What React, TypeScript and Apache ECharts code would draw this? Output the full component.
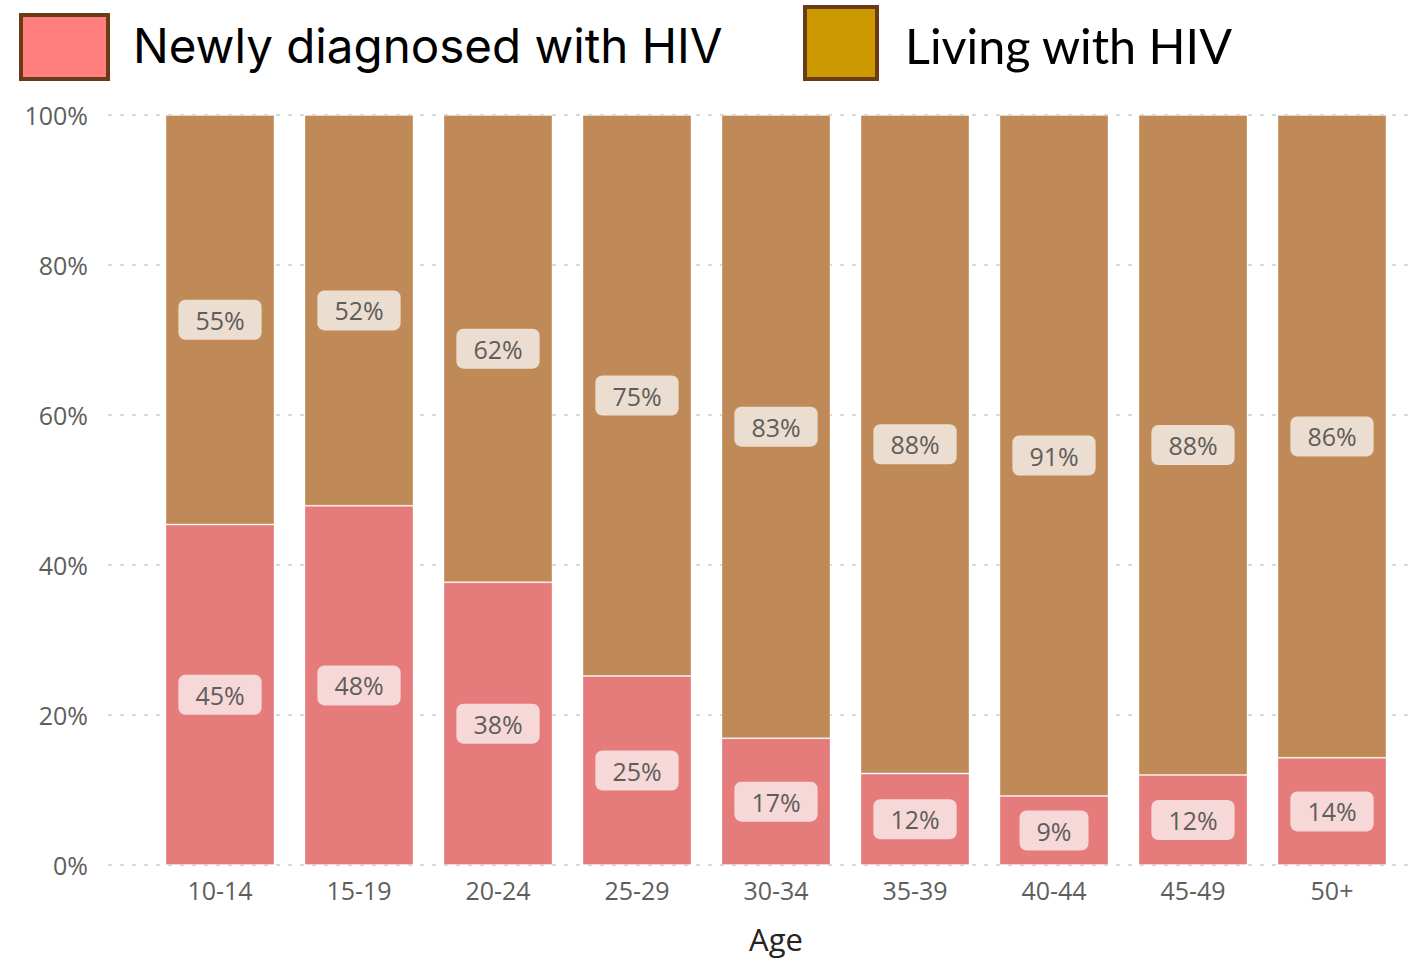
import React, { useEffect, useRef } from "react";
import * as echarts from "echarts";

const categories = ["10-14", "15-19", "20-24", "25-29", "30-34", "35-39", "40-44", "45-49", "50+"];
const newlyDiagnosed = [45.4, 47.9, 37.7, 25.2, 16.9, 12.2, 9.2, 12.0, 14.3];
const livingWithHIV = [54.6, 52.1, 62.3, 74.8, 83.1, 87.8, 90.8, 88.0, 85.7];
const legendNames = ["Newly diagnosed with HIV", "Living with HIV"];
const yTicks = { min: 0, max: 100, interval: 20 };

export default function App() {
  const ref = useRef<HTMLDivElement>(null);
  useEffect(() => {
    document.body.style.margin = "0";
    const chart = echarts.init(ref.current!, null, { renderer: "svg" });
    const labelFont = "'Open Sans', 'Noto Sans', sans-serif";
    const mkLabel = (bg: string) => ({
      show: true,
      position: "inside",
      formatter: (p: any) => Math.round(p.value) + "%",
      color: "#5f5d5b",
      fontSize: 25,
      fontFamily: labelFont,
      backgroundColor: bg,
      padding: [8, 17, 7, 17],
      borderRadius: 7,
    });
    chart.setOption({
      animation: false,
      grid: [
        { left: 108, right: 0, top: 115, bottom: 94 },
        { left: 150.5, right: 14.5, top: 115, bottom: 94 },
      ],
      xAxis: [
        { type: "value", gridIndex: 0, show: false, min: 0, max: 1 },
        {
          type: "category",
          gridIndex: 1,
          data: categories,
          axisLine: { show: false },
          axisTick: { show: false },
          axisLabel: { color: "#605e5c", fontSize: 25, fontFamily: labelFont, margin: 12 },
          name: "Age",
          nameLocation: "middle",
          nameGap: 58,
          nameTextStyle: { color: "#252423", fontSize: 31, fontFamily: labelFont },
        },
      ],
      yAxis: [
        {
          type: "value",
          gridIndex: 0,
          min: yTicks.min,
          max: yTicks.max,
          interval: yTicks.interval,
          axisLine: { show: false },
          axisTick: { show: false },
          axisLabel: {
            formatter: "{value}%",
            color: "#605e5c",
            fontSize: 25,
            fontFamily: labelFont,
            margin: 20,
          },
          splitLine: { lineStyle: { color: "#d9d9d9", width: 2, type: [4, 8] } },
        },
        {
          type: "value",
          gridIndex: 1,
          min: yTicks.min,
          max: yTicks.max,
          show: false,
          splitLine: { show: false },
        },
      ],
      series: [
        {
          name: legendNames[0],
          type: "bar",
          stack: "total",
          xAxisIndex: 1,
          yAxisIndex: 1,
          barWidth: 109,
          data: newlyDiagnosed,
          itemStyle: { color: "#e57b7b", borderColor: "rgba(255,255,255,0.35)", borderWidth: 1 },
          label: mkLabel("#f6d8d9"),
        },
        {
          name: legendNames[1],
          type: "bar",
          stack: "total",
          xAxisIndex: 1,
          yAxisIndex: 1,
          barWidth: 109,
          data: livingWithHIV,
          itemStyle: { color: "#bf8a57", borderColor: "rgba(255,255,255,0.35)", borderWidth: 1 },
          label: mkLabel("#ebddcf"),
        },
      ],
      graphic: [
        {
          type: "rect",
          shape: { x: 21, y: 15, width: 87, height: 64 },
          style: { fill: "#ff7f7f", stroke: "#6b3a17", lineWidth: 4 },
        },
        {
          type: "text",
          x: 133,
          y: 45,
          style: {
            text: legendNames[0],
            fill: "#000",
            fontSize: 47.5,
            fontFamily: "Inter, 'Open Sans', sans-serif",
            verticalAlign: "middle",
          },
        },
        {
          type: "rect",
          shape: { x: 805, y: 7, width: 72, height: 72 },
          style: { fill: "#cc9900", stroke: "#6b3a17", lineWidth: 4 },
        },
        {
          type: "text",
          x: 905,
          y: 45,
          style: {
            text: legendNames[1],
            fill: "#000",
            fontSize: 48.5,
            fontFamily: "Lato, 'Open Sans', sans-serif",
            verticalAlign: "middle",
          },
        },
      ],
    });
    return () => chart.dispose();
  }, []);
  return <div ref={ref} style={{ width: 1416, height: 959 }} />;
}
